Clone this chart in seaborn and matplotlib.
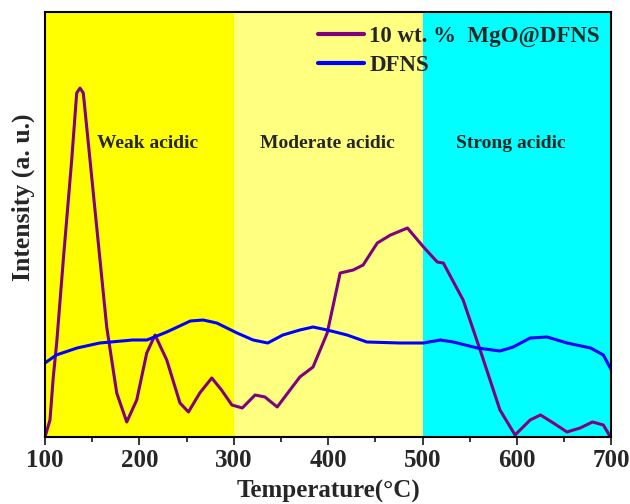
import numpy as np
import pandas as pd
import matplotlib
matplotlib.use('Agg')
import matplotlib.pyplot as plt
import seaborn as sns
from matplotlib.ticker import MultipleLocator

# values (intensity in arbitrary units)
mgo_temp = [100, 105.3, 108.8, 112.4, 119.4, 128.3, 133.6, 137.1, 140.6, 145.9, 154.8, 165.4, 176,
            186.6, 197.2, 207.8, 216.6, 229, 243, 252, 264, 276.7, 287, 298, 309, 322.6, 333,
            346, 370, 384, 399, 412.7, 426.5, 437, 452, 466, 484, 501, 515.6, 522, 543, 561,
            582, 598, 614, 625, 638.5, 653, 667, 680, 691.5, 699]
mgo_int = [0, 17, 60, 94, 177, 277, 344, 349, 344, 294, 210, 110, 44,
           15, 37, 84, 102, 77, 34, 25, 44, 59, 47, 32, 29, 42, 40,
           30, 60, 70, 104, 164, 167, 172, 194, 202, 209, 190, 175, 174, 137, 87,
           27, 2, 17, 22, 14, 5, 9, 15, 12, 0]

dfns_temp = [100, 112, 134, 158, 193, 208, 229, 254, 267.5, 282, 303.5, 320.5, 336, 352, 370,
             384, 399, 420, 441, 476, 501, 519, 532.5, 558, 582, 596, 614, 632, 653, 678,
             691.5, 700]
dfns_int = [74, 82, 89, 94, 97, 97, 105, 116, 117, 114, 104, 97, 94, 102, 107,
            110, 107, 102, 95, 94, 94, 97, 95, 89, 86, 90, 99, 100, 94, 89,
            82, 67]

regions = [(100, 300, '#FFFF00', 'Weak acidic', 209),
           (300, 500, '#FFFF80', 'Moderate acidic', 399),
           (500, 700, '#00FFFF', 'Strong acidic', 594)]

mgo_label = '10 wt. %  MgO@DFNS'
dfns_label = 'DFNS'

df = pd.concat([
    pd.DataFrame({'Temperature': mgo_temp, 'Intensity': mgo_int, 'Sample': mgo_label}),
    pd.DataFrame({'Temperature': dfns_temp, 'Intensity': dfns_int, 'Sample': dfns_label}),
])

sns.set_style('ticks')
plt.rcParams['font.family'] = ['Liberation Serif', 'DejaVu Serif']
plt.rcParams['font.weight'] = 'bold'

fig = plt.figure(figsize=(6.3, 5.04), dpi=100)
ax = fig.add_axes([0.0714, 0.133, 0.899, 0.843])

for x0, x1, col, txt, xt in regions:
    ax.axvspan(x0, x1, color=col, lw=0, zorder=0)
    ax.text(xt, 294, txt, ha='center', va='center', fontsize=14, fontweight='bold')

sns.lineplot(data=df, x='Temperature', y='Intensity', hue='Sample', sort=False,
             palette={mgo_label: '#800080', dfns_label: '#0000FF'}, lw=2.2, ax=ax)

ax.set_xlim(100, 700)
ax.set_ylim(0, 425)
ax.xaxis.set_major_locator(MultipleLocator(100))
ax.xaxis.set_minor_locator(MultipleLocator(50))
ax.set_yticks([])
ax.tick_params(axis='x', which='major', direction='out', length=6, width=1.3, labelsize=18, pad=3)
ax.tick_params(axis='x', which='minor', direction='out', length=3.5, width=1.3)
for s in ax.spines.values():
    s.set_linewidth(1.5)
    s.set_color('black')
for lab in ax.get_xticklabels():
    lab.set_fontweight('bold')

ax.set_xlabel('Temperature(°C)', fontsize=18, fontweight='bold')
ax.set_ylabel('Intensity (a. u.)', fontsize=18.5, fontweight='bold')
ax.xaxis.set_label_coords(0.5, -0.10)
ax.yaxis.set_label_coords(-0.018, 0.564)

leg = ax.legend(loc='upper right', bbox_to_anchor=(1.0, 0.995), frameon=False, fontsize=16.5,
                handlelength=2.0, handletextpad=0.25, labelspacing=0.35, borderaxespad=0.1)
for t in leg.get_texts():
    t.set_fontweight('bold')
for l in leg.get_lines():
    l.set_linewidth(3)

fig.savefig('out.png', dpi=100)
